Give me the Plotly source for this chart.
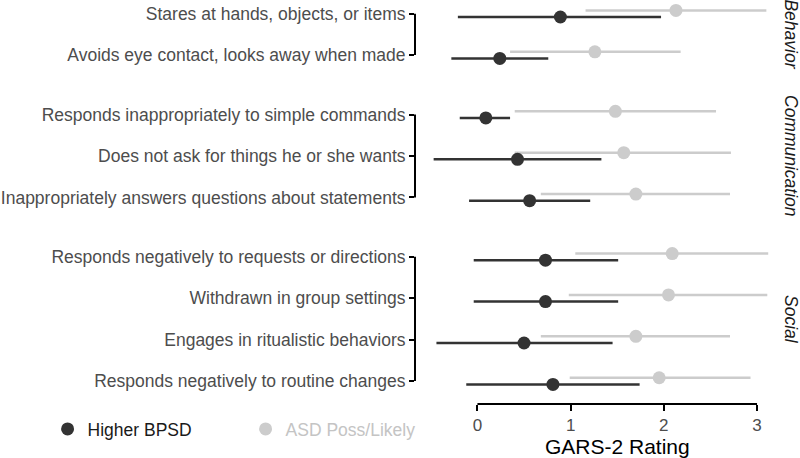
import plotly.graph_objects as go

items = [
    "Stares at hands, objects, or items",
    "Avoids eye contact, looks away when made",
    "Responds inappropriately to simple commands",
    "Does not ask for things he or she wants",
    "Inappropriately answers questions about statements",
    "Responds negatively to requests or directions",
    "Withdrawn in group settings",
    "Engages in ritualistic behaviors",
    "Responds negatively to routine changes",
]
facets = ["Behavior", "Behavior",
          "Communication", "Communication", "Communication",
          "Social", "Social", "Social", "Social"]

bpsd_mean = [0.89, 0.24, 0.09, 0.43, 0.56, 0.73, 0.73, 0.50, 0.81]
bpsd_lo = [-0.21, -0.28, -0.19, -0.47, -0.09, -0.04, -0.04, -0.44, -0.12]
bpsd_hi = [1.97, 0.76, 0.35, 1.33, 1.21, 1.51, 1.51, 1.45, 1.74]

asd_mean = [2.13, 1.26, 1.48, 1.57, 1.70, 2.09, 2.05, 1.70, 1.95]
asd_lo = [1.16, 0.35, 0.40, 0.40, 0.68, 1.05, 0.98, 0.68, 0.99]
asd_hi = [3.10, 2.18, 2.56, 2.72, 2.71, 3.12, 3.11, 2.71, 2.93]

x_ticks = [0, 1, 2, 3]
series_names = ["Higher BPSD", "ASD Poss/Likely"]

DARK = "#333333"
LIGHT = "#cccccc"
FACET_GAP = 0.437
DODGE = 0.08

# y positions: one unit per item, extra gap between facets
facet_order = []
for f in facets:
    if f not in facet_order:
        facet_order.append(f)
pos = []
for i, f in enumerate(facets):
    pos.append(i + facet_order.index(f) * FACET_GAP)

fig = go.Figure()

fig.add_trace(go.Scatter(
    x=asd_mean, y=[p - DODGE for p in pos], mode="markers",
    name="<span style='color:#c4c4c4'>" + series_names[1] + "</span>",
    marker=dict(color=LIGHT, size=13),
    error_x=dict(type="data", symmetric=False,
                 array=[h - m for h, m in zip(asd_hi, asd_mean)],
                 arrayminus=[m - l for m, l in zip(asd_mean, asd_lo)],
                 color=LIGHT, thickness=2.5, width=0),
    legendrank=2,
))
fig.add_trace(go.Scatter(
    x=bpsd_mean, y=[p + DODGE for p in pos], mode="markers",
    name="<span style='color:#1a1a1a'>" + series_names[0] + "</span>",
    marker=dict(color=DARK, size=13),
    error_x=dict(type="data", symmetric=False,
                 array=[h - m for h, m in zip(bpsd_hi, bpsd_mean)],
                 arrayminus=[m - l for m, l in zip(bpsd_mean, bpsd_lo)],
                 color=DARK, thickness=2.5, width=0),
    legendrank=1,
))

shapes = []
annotations = []
for f in facet_order:
    fp = [p for p, ff in zip(pos, facets) if ff == f]
    shapes.append(dict(type="line", xref="x domain", yref="y",
                       x0=0, x1=0, y0=min(fp), y1=max(fp),
                       line=dict(color="black", width=2)))
    annotations.append(dict(text="<i>" + f + "</i>", xref="paper", yref="y",
                            x=1, y=sum(fp) / len(fp), xanchor="left",
                            yanchor="middle", xshift=-6, textangle=90,
                            showarrow=False,
                            font=dict(size=17.5, color="#1a1a1a")))

# x axis line spanning tick range only
shapes.append(dict(type="line", xref="x", yref="y domain",
                   x0=min(x_ticks), x1=max(x_ticks), y0=0, y1=0,
                   line=dict(color="black", width=2)))
annotations.append(dict(text="GARS-2 Rating", xref="x", yref="paper",
                        x=sum(x_ticks) / len(x_ticks), y=-0.104,
                        xanchor="center", yanchor="middle", showarrow=False,
                        font=dict(size=21, color="black")))

top_val = -0.331
bottom_val = 9.428

fig.update_layout(
    width=800, height=458,
    margin=dict(l=415, r=15, t=0, b=54, autoexpand=False),
    paper_bgcolor="white", plot_bgcolor="white",
    font=dict(family="Liberation Sans, Arial, sans-serif", size=17.5, color="#4d4d4d"),
    showlegend=True,
    legend=dict(orientation="h", x=-0.993, y=-0.062, xanchor="left", yanchor="middle",
                font=dict(size=17.5), entrywidth=153, entrywidthmode="pixels",
                bgcolor="rgba(0,0,0,0)"),
    shapes=shapes,
    annotations=annotations,
    xaxis=dict(range=[-0.67, 3.3], tickvals=x_ticks, showgrid=False, zeroline=False,
               showline=False, ticks="outside", ticklen=6, tickwidth=2,
               tickcolor="black", tickfont=dict(size=17, color="#4d4d4d"),
               automargin=False),
    yaxis=dict(range=[bottom_val, top_val], tickvals=pos, ticktext=items,
               showgrid=False, zeroline=False, showline=False,
               ticks="outside", ticklen=5, tickwidth=2, tickcolor="black",
               tickfont=dict(size=17.5, color="#4d4d4d"), automargin=False),
)

fig.write_html("out.html", config={"displayModeBar": False},
               post_script="document.body.style.margin='0px';")
